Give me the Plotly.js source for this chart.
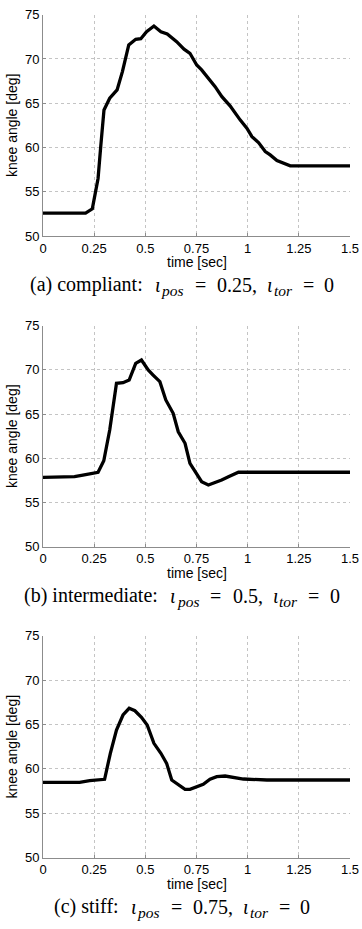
<!DOCTYPE html>
<html>
<head>
<meta charset="utf-8">
<script src="https://cdn.plot.ly/plotly-3.0.1.min.js"></script>
<style>html,body{margin:0;padding:0;background:#fff;}#chart{width:362px;height:929px;}</style>
</head>
<body>
<div id="chart"></div>
<script>
// ---- data ----
const timeA  = [0, 0.208, 0.241, 0.269, 0.282, 0.298, 0.326, 0.362, 0.388, 0.419, 0.453, 0.478, 0.506, 0.542, 0.576, 0.607, 0.653, 0.689, 0.718, 0.751, 0.775, 0.816, 0.841, 0.874, 0.914, 0.963, 0.996, 1.021, 1.053, 1.086, 1.110, 1.143, 1.176, 1.208, 1.5];
const angleA = [52.58, 52.58, 53.07, 56.5, 60.1, 64.24, 65.56, 66.5, 68.57, 71.58, 72.22, 72.29, 73.08, 73.72, 73.08, 72.82, 71.95, 71.1, 70.64, 69.32, 68.76, 67.55, 66.87, 65.74, 64.7, 63.12, 62.18, 61.23, 60.55, 59.54, 59.16, 58.52, 58.23, 57.92, 57.92];

const timeB  = [0, 0.154, 0.195, 0.269, 0.297, 0.326, 0.359, 0.391, 0.421, 0.453, 0.481, 0.514, 0.538, 0.571, 0.600, 0.636, 0.661, 0.694, 0.718, 0.751, 0.775, 0.808, 0.841, 0.873, 0.906, 0.955, 1.5];
const angleB = [57.85, 57.92, 58.11, 58.42, 59.73, 63.2, 68.48, 68.55, 68.86, 70.74, 71.12, 69.99, 69.42, 68.67, 66.6, 65.09, 63.0, 61.7, 59.43, 58.3, 57.35, 56.98, 57.24, 57.55, 57.92, 58.42, 58.42];

const timeC  = [0, 0.179, 0.228, 0.261, 0.301, 0.329, 0.359, 0.391, 0.421, 0.449, 0.481, 0.509, 0.542, 0.576, 0.604, 0.629, 0.661, 0.694, 0.718, 0.751, 0.783, 0.816, 0.849, 0.890, 0.930, 0.979, 1.094, 1.5];
const angleC = [58.49, 58.49, 58.67, 58.78, 58.83, 61.76, 64.38, 66.07, 66.82, 66.55, 65.81, 64.94, 62.88, 61.76, 60.63, 58.75, 58.19, 57.7, 57.7, 58.0, 58.27, 58.83, 59.12, 59.2, 59.01, 58.86, 58.75, 58.75];

const xTickVals = [0, 0.25, 0.5, 0.75, 1, 1.25, 1.5];
const xTickText = ["0", "0.25", "0.5", "0.75", "1", "1.25", "1.5"];
const yTickVals = [50, 55, 60, 65, 70, 75];
const yTickText = ["50", "55", "60", "65", "70", "75"];

const xTitle = "time [sec]";
const yTitle = "knee angle [deg]";
const captionLabels = ["(a) compliant:", "(b) intermediate:", "(c) stiff:"];
const iotaPos = ["0.25,", "0.5,", "0.75,"];
const iotaTor = ["0", "0", "0"];

// ---- geometry ----
const W = 362, H = 929, ML = 43, MR = 12;
const PW = W - ML - MR;
const yDomains = [
  [1 - 236.0 / H, 1 - 14.7 / H],
  [1 - 546.7 / H, 1 - 325.7 / H],
  [1 - 857.7 / H, 1 - 635.7 / H]
];
const captionY = [285, 595.7, 906.7];
const xTitleY = [262, 572.7, 883.7];

// caption pieces: [text, size, italic, subscript, gapAfter]
const CAP_FONT = 'Liberation Serif';
const MAIN = 20, SUB = 15.5;
function captionPieces(i) {
  return [
    [captionLabels[i], MAIN, false, false, 12],
    ['ι', MAIN, true, false, 1],
    ['pos', SUB, true, true, 12],
    ['=', MAIN, false, false, 11],
    [iotaPos[i], MAIN, false, false, 10],
    ['ι', MAIN, true, false, 1],
    ['tor', SUB, true, true, 11],
    ['=', MAIN, false, false, 10],
    [iotaTor[i], MAIN, false, false, 0]
  ];
}
const ctx = document.createElement('canvas').getContext('2d');
function measure(t, size, italic) {
  ctx.font = (italic ? 'italic ' : '') + size + 'px "' + CAP_FONT + '"';
  return ctx.measureText(t).width;
}

const series = [[timeA, angleA], [timeB, angleB], [timeC, angleC]];
const traces = series.map((s, i) => ({
  x: s[0], y: s[1], type: 'scatter', mode: 'lines',
  line: {color: '#000000', width: 3.3},
  xaxis: i === 0 ? 'x' : 'x' + (i + 1),
  yaxis: i === 0 ? 'y' : 'y' + (i + 1),
  showlegend: false, hoverinfo: 'skip'
}));

const tickFont = {family: 'Liberation Sans, Arial, sans-serif', size: 13, color: '#000'};
const titleFont = {family: 'Liberation Sans, Arial, sans-serif', size: 14, color: '#000'};

const layout = {
  width: W, height: H,
  margin: {l: ML, r: MR, t: 0, b: 0},
  paper_bgcolor: '#ffffff', plot_bgcolor: '#ffffff',
  showlegend: false,
  annotations: []
};

for (let i = 0; i < 3; i++) {
  const sx = i === 0 ? '' : String(i + 1);
  layout['xaxis' + sx] = {
    domain: [0, 1], anchor: 'y' + sx, range: [0, 1.5],
    tickvals: xTickVals, ticktext: xTickText,
    ticks: 'inside', ticklen: 3, tickcolor: '#8c8c8c', tickwidth: 1,
    showline: true, linecolor: '#8c8c8c', linewidth: 1, mirror: false,
    showgrid: true, gridcolor: '#c4c4c4', griddash: 'dot', gridwidth: 1,
    zeroline: false, tickfont: tickFont,
    fixedrange: true
  };
  layout['yaxis' + sx] = {
    domain: yDomains[i], anchor: 'x' + sx, range: [50, 75],
    tickvals: yTickVals, ticktext: yTickText,
    ticks: 'inside', ticklen: 3, tickcolor: '#8c8c8c', tickwidth: 1,
    showline: true, linecolor: '#8c8c8c', linewidth: 1, mirror: false,
    showgrid: true, gridcolor: '#c4c4c4', griddash: 'dot', gridwidth: 1,
    zeroline: false, tickfont: tickFont,
    title: {text: yTitle, font: titleFont, standoff: 4},
    fixedrange: true
  };
  // x-axis title
  layout.annotations.push({
    text: xTitle, xref: 'paper', yref: 'paper',
    x: 0.5, y: 1 - xTitleY[i] / H, xanchor: 'center', yanchor: 'middle',
    showarrow: false, borderpad: 0, font: titleFont
  });
  // caption, built piece by piece and centred on the page
  const pieces = captionPieces(i);
  const widths = pieces.map(p => measure(p[0], p[1], p[2]));
  let total = 0;
  pieces.forEach((p, k) => { total += widths[k] + p[4]; });
  let px = W / 2 - total / 2;
  pieces.forEach((p, k) => {
    const cy = captionY[i] + (p[3] ? 6 : 0);
    layout.annotations.push({
      text: p[0], xref: 'paper', yref: 'paper',
      x: (px - ML) / PW, y: 1 - cy / H,
      xanchor: 'left', yanchor: 'middle', showarrow: false, borderpad: 0,
      font: {family: CAP_FONT + ', Times New Roman, serif', size: p[1], color: '#000',
             style: p[2] ? 'italic' : 'normal'}
    });
    px += widths[k] + p[4];
  });
}

Plotly.newPlot('chart', traces, layout, {staticPlot: true, displayModeBar: false});
</script>
</body>
</html>
